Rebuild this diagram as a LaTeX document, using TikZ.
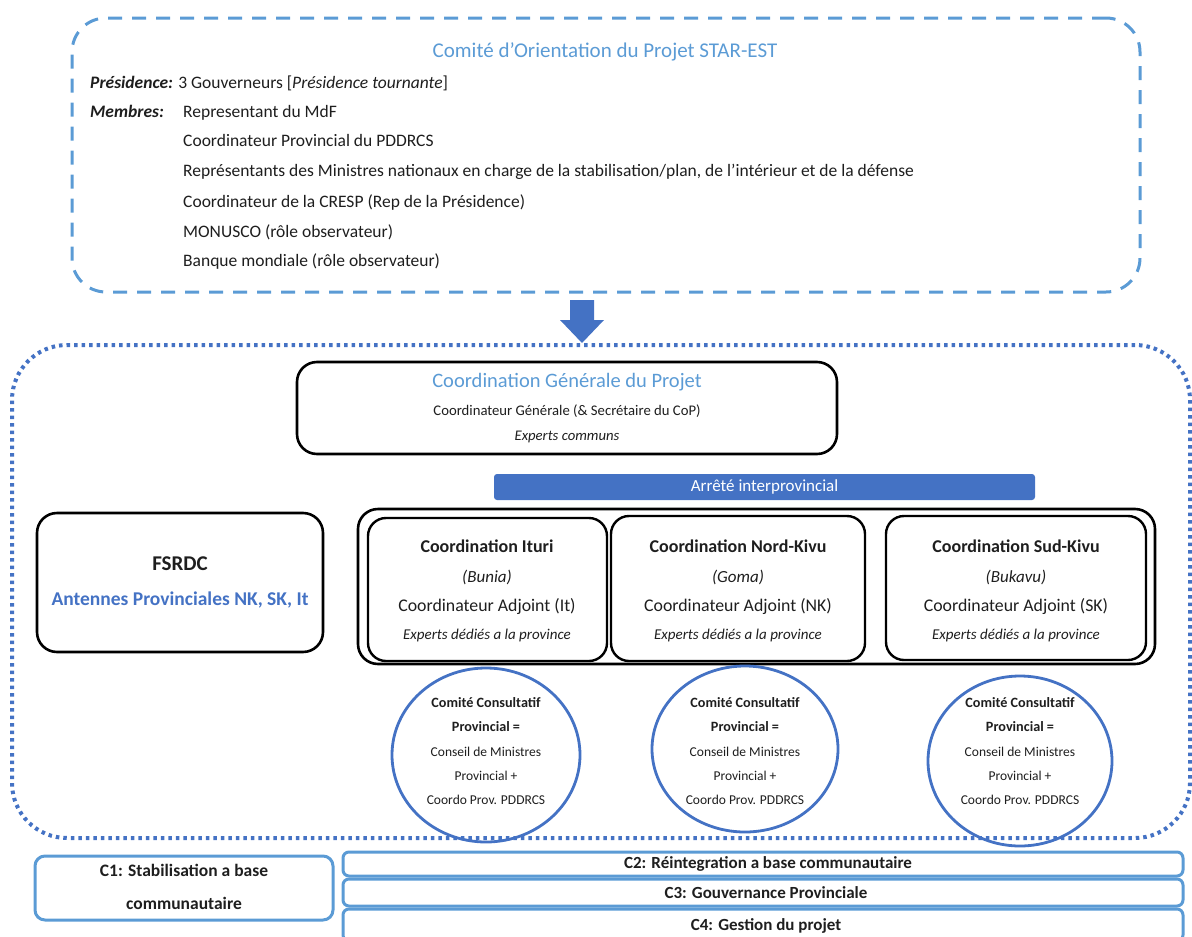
\documentclass[tikz,border=0pt]{standalone}
\usepackage{fontspec}
\setmainfont{Carlito}
\usetikzlibrary{shapes.geometric}
\definecolor{lblue}{HTML}{5B9BD5}
\definecolor{dblue}{HTML}{4472C4}
\definecolor{ink}{HTML}{1E1E1E}
\newcommand\fs[1]{\fontsize{#1}{#1}\selectfont}
\tikzset{
  txt/.style={inner sep=0pt, anchor=mid, text=ink, yshift=-2.5pt},
  txtl/.style={inner sep=0pt, anchor=mid west, text=ink, yshift=-2.5pt},
  blackbox/.style={draw=black, line width=2.6pt, rounded corners=20pt, inner sep=0pt},
  provbox/.style={draw=black, line width=2.4pt, rounded corners=18pt, inner sep=0pt},
  ccp/.style={ellipse, draw=dblue, line width=2.8pt, inner sep=0pt},
  cbar/.style={draw=lblue, line width=3pt, rounded corners=6pt, inner sep=0pt}
}
\begin{document}
\begin{tikzpicture}[x=1pt,y=-1pt]
\useasboundingbox (0,0) rectangle (1192,937);

% Comite d'orientation (dashed frame)
\node[draw=lblue, line width=3pt, dash pattern=on 14pt off 10pt, rounded corners=34pt,
      minimum width=1068pt, minimum height=274pt, inner sep=0pt] (cop) at (606,155) {};
\node[txt, text=lblue, font=\fs{21}] (coptitle) at (605,53) {Comité d’Orientation du Projet STAR-EST};
\node[txtl, font=\fs{17.5}] (pres) at (90,84) {\textbf{\textit{Présidence:}} 3 Gouverneurs [\textit{Présidence tournante}]};
\node[txtl, font=\fs{17.5}] (memb) at (90,113) {\textbf{\textit{Membres:}}};
\node[txtl, font=\fs{17.5}] (m1) at (183,113) {Representant du MdF};
\node[txtl, font=\fs{17.5}] (m2) at (183,142) {Coordinateur Provincial du PDDRCS};
\node[txtl, font=\fs{17.5}] (m3) at (183,172) {Représentants des Ministres nationaux en charge de la stabilisation/plan, de l’intérieur et de la défense};
\node[txtl, font=\fs{17.5}] (m4) at (183,203) {Coordinateur de la CRESP (Rep de la Présidence)};
\node[txtl, font=\fs{17.5}] (m5) at (183,233) {MONUSCO (rôle observateur)};
\node[txtl, font=\fs{17.5}] (m6) at (183,262) {Banque mondiale (rôle observateur)};

% Project frame (dotted)
\node[draw=dblue, line width=4pt, dash pattern=on 3.5pt off 4pt, rounded corners=55pt,
      minimum width=1178pt, minimum height=493pt, inner sep=0pt] (proj) at (601,591.5) {};

% Block arrow from the committee down to the project frame
\fill[dblue] (570,300) -- (594,300) -- (594,320) -- (604,320) -- (582,343)
             -- (560,320) -- (570,320) -- cycle;

% Coordination generale
\node[blackbox, minimum width=540pt, minimum height=92pt] (cg) at (567,408) {};
\node[txt, text=lblue, font=\fs{20.5}] (cg1) at (567,383) {Coordination Générale du Projet};
\node[txt, font=\fs{14.7}] (cg2) at (567,411) {Coordinateur Générale (\& Secrétaire du CoP)};
\node[txt, font=\fs{14.7}\itshape] (cg3) at (567,436) {Experts communs};

% Arrete interprovincial
\node[fill=dblue, rounded corners=3pt, minimum width=541pt, minimum height=26pt, inner sep=0pt,
      text=white, font=\fs{17}] (arr) at (764.5,487) {\raisebox{-1pt}{Arrêté interprovincial}};

% FSRDC
\node[blackbox, minimum width=286pt, minimum height=139pt] (fs) at (180,582.5) {};
\node[txt, font=\fs{21}\bfseries] (fs1) at (180,566) {FSRDC};
\node[txt, text=dblue, font=\fs{19.5}\bfseries] (fs2) at (180,601) {Antennes Provinciales NK, SK, It};

% Provincial coordinations
\node[blackbox, minimum width=797pt, minimum height=155pt] (prov) at (756.5,586.5) {};
\node[provbox, minimum width=239pt, minimum height=143pt] (it) at (487.5,589.5) {};
\node[provbox, minimum width=254pt, minimum height=145pt] (nk) at (738,588.5) {};
\node[provbox, minimum width=260pt, minimum height=144pt] (sk) at (1016,588) {};

\foreach \p/\cx/\town/\abbr/\name in {it/487/Bunia/It/Ituri, nk/738/Goma/NK/Nord-Kivu, sk/1016/Bukavu/SK/Sud-Kivu}{
  \node[txt, font=\fs{18}\bfseries] (\p 1) at (\cx,548) {Coordination \name};
  \node[txt, font=\fs{17}\itshape] (\p 2) at (\cx,578) {(\town)};
  \node[txt, font=\fs{17.8}] (\p 3) at (\cx,607) {Coordinateur Adjoint (\abbr)};
  \node[txt, font=\fs{15}\itshape] (\p 4) at (\cx,635) {Experts dédiés a la province};
}

% Provincial consultative committees
\node[ccp, minimum width=188pt, minimum height=174pt] (c1) at (486,755) {};
\node[ccp, minimum width=186pt, minimum height=166pt] (c2) at (745,749) {};
\node[ccp, minimum width=184pt, minimum height=170pt] (c3) at (1020,761) {};
\foreach \n/\cx in {c1/486, c2/745, c3/1020}{
  \node[txt, font=\fs{14.2}\bfseries] (\n a) at (\cx,703) {Comité Consultatif};
  \node[txt, font=\fs{14.2}\bfseries] (\n b) at (\cx,727) {Provincial =};
  \node[txt, font=\fs{13.5}] (\n c) at (\cx,752) {Conseil de Ministres};
  \node[txt, font=\fs{13.5}] (\n d) at (\cx,776) {Provincial +};
  \node[txt, font=\fs{13.5}] (\n e) at (\cx,800) {Coordo Prov. PDDRCS};
}

% Components
\node[cbar, rounded corners=10pt, minimum width=298pt, minimum height=64pt] (k1) at (184,888) {};
\node[txt, font=\fs{17.5}\bfseries] (k1a) at (184,872) {C1: Stabilisation a base};
\node[txt, font=\fs{17.5}\bfseries] (k1b) at (184,905) {communautaire};
\node[cbar, minimum width=840pt, minimum height=24pt] (k2) at (763,864) {};
\node[cbar, minimum width=840pt, minimum height=27pt] (k3) at (763,892.5) {};
\node[cbar, minimum width=840pt, minimum height=32pt] (k4) at (763,925) {};
\node[txt, font=\fs{17}\bfseries] (k2t) at (768,864) {C2: Réintegration a base communautaire};
\node[txt, font=\fs{17}\bfseries] (k3t) at (766,894) {C3: Gouvernance Provinciale};
\node[txt, font=\fs{17}\bfseries] (k4t) at (766,926) {C4: Gestion du projet};
\end{tikzpicture}
\end{document}
